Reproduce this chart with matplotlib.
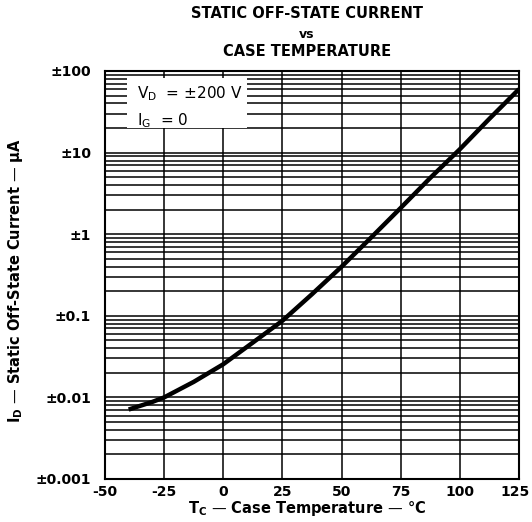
import matplotlib
matplotlib.use("Agg")
import matplotlib.pyplot as plt
from matplotlib.patches import Rectangle
from matplotlib.ticker import NullLocator
import matplotlib.transforms as mtransforms

temps = [-40, -30, -25, -12.5, 0, 12.5, 25, 37.5, 50, 62.5, 75, 87.5, 100, 112.5, 125]
current = [0.0071, 0.0088, 0.0100, 0.0155, 0.0255, 0.047, 0.087, 0.184, 0.40, 0.91, 2.1, 4.9, 11, 26, 60]
xticks = [-50, -25, 0, 25, 50, 75, 100, 125]
yticks = [0.001, 0.01, 0.1, 1, 10, 100]
ytick_labels = ["±0.001", "±0.01", "±0.1", "±1", "±10", "±100"]

plt.rcParams['font.family'] = ['DejaVu Sans']
fig = plt.figure(figsize=(5.32, 5.22), dpi=100)
ax = fig.add_axes([105/532, 1-479/522, (519-105)/532, (479-71)/522])
ax.set_yscale('log')
ax.set_xlim(-50, 125)
ax.set_ylim(1e-3, 1e2)

# grid lines
for dec in [1e-3, 1e-2, 1e-1, 1, 10]:
    for m in range(1, 10):
        ax.axhline(dec*m, color='black', lw=1.1, zorder=1)
for xv in xticks:
    ax.axvline(xv, color='black', lw=1.1, zorder=1)

ax.plot(temps, current, color='black', lw=3.2, zorder=4, solid_capstyle='butt')

ax.set_xticks(xticks)
ax.set_xticklabels([str(v) for v in xticks])
ax.set_yticks(yticks)
ax.set_yticklabels(ytick_labels)
ax.yaxis.set_minor_locator(NullLocator())
ax.tick_params(axis='x', length=0, labelsize=10, pad=4)
ax.tick_params(axis='y', length=0, labelsize=10, pad=10)
for lab in ax.get_xticklabels() + ax.get_yticklabels():
    lab.set_fontweight('bold')
last = ax.get_xticklabels()[-1]
last.set_transform(last.get_transform() + mtransforms.ScaledTranslation(-4/100, 0, fig.dpi_scale_trans))
for s in ax.spines.values():
    s.set_linewidth(1.5)

# annotation box
box = Rectangle(((127-105)/414, (479-128)/408), (247-127)/414, (128-78)/408,
                transform=ax.transAxes, fc='white', ec='none', zorder=5)
ax.add_patch(box)
ax.text((137-105)/414, (479-94)/408, "V$_\\mathregular{D}$  = ±200 V", transform=ax.transAxes,
        fontsize=11, va='center', ha='left', zorder=6)
ax.text((137-105)/414, (479-121)/408, "I$_\\mathregular{G}$  = 0", transform=ax.transAxes,
        fontsize=11, va='center', ha='left', zorder=6)

fig.text(307/532, 1-14/522, "STATIC OFF-STATE CURRENT", ha='center', va='center', fontsize=10.5, fontweight='bold')
fig.text(307/532, 1-34/522, "vs", ha='center', va='center', fontsize=9, fontweight='bold')
fig.text(307/532, 1-52/522, "CASE TEMPERATURE", ha='center', va='center', fontsize=10.5, fontweight='bold')

fig.text(307/532, 1-509/522, "T$_\\mathregular{C}$ — Case Temperature — °C", ha='center', va='center', fontsize=10.5, fontweight='bold')
fig.text(16/532, 1-281/522, "I$_\\mathregular{D}$ — Static Off-State Current — μA", ha='center', va='center',
         rotation=90, fontsize=10.5, fontweight='bold')

fig.savefig("out.png", dpi=100)
